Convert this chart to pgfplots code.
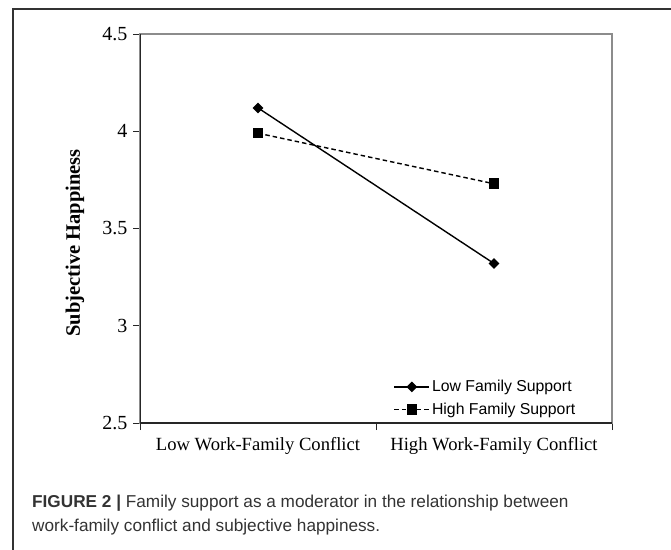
\documentclass[border=0pt]{standalone}
\usepackage{fontspec}
\setmainfont{Liberation Serif}
\newfontfamily\capfont{Liberation Sans}
\usepackage{pgfplots}
\pgfplotsset{compat=1.18}
\begin{document}
\begin{tikzpicture}
\path[use as bounding box] (0,0) rectangle (671bp,-550bp);
% figure frame (top and left only)
\draw[line width=1.4bp, black!80] (13bp,-550bp) -- (13bp,-9bp) -- (671bp,-9bp);
\begin{axis}[
    at={(140bp,-423bp)}, anchor=south west,
    scale only axis, width=472bp, height=389bp,
    xmin=0, xmax=2, ymin=2.5, ymax=4.5,
    axis line style={black!45, line width=1.2bp},
    xtick={0,1,2}, xticklabels={},
    extra x ticks={0.5,1.5},
    extra x tick labels={Low Work-Family Conflict, High Work-Family Conflict},
    extra x tick style={major tick length=0pt,
        tick label style={yshift=-11bp}},
    ytick={2.5,3,3.5,4,4.5},
    xtick pos=bottom, ytick pos=left,
    tick align=outside, major tick length=7bp,
    tick style={black!85, line width=1bp},
    tick label style={font=\fontsize{18.6bp}{22bp}\selectfont},
    yticklabel style={font=\fontsize{20bp}{24bp}\selectfont, xshift=-2bp},
    /pgf/number format/assume math mode=true,
    ylabel={\bfseries Subjective Happiness},
    every axis y label/.style={at={(rel axis cs:0,0.463)}, xshift=-65bp,
        rotate=90, anchor=center, font=\fontsize{20.5bp}{24bp}\selectfont},
    legend style={draw=none, fill=none, at={(rel axis cs:0.537,0.115)},
        anchor=north west, inner sep=0pt, row sep=5.5bp,
        font=\capfont\fontsize{15.8bp}{18bp}\selectfont},
    legend cell align=left,
    legend image code/.code={\draw[mark repeat=2,mark phase=2,#1]
        plot coordinates {(0bp,0bp) (17.5bp,0bp) (35bp,0bp)};},
]
\addplot[black, line width=1.4bp, mark=square*, mark size=3.1bp,
    mark options={rotate=45, solid}] coordinates {(0.5,4.12) (1.5,3.32)};
\addlegendentry{Low Family Support}
\addplot[black, line width=1.4bp, dash pattern=on 4.5bp off 3bp, mark=square*,
    mark size=4.6bp, mark options={solid}] coordinates {(0.5,3.99) (1.5,3.73)};
\addlegendentry{High Family Support}
\draw[black!85, line width=1.2bp] (rel axis cs:0,1) -- (rel axis cs:0,0) -- (rel axis cs:1,0);
\end{axis}
\node[anchor=base west, inner sep=0pt, text=black!80,
    font=\capfont\fontsize{17.2bp}{21bp}\selectfont] at (32bp,-507bp)
    {\textbf{FIGURE 2 |} Family support as a moderator in the relationship between};
\node[anchor=base west, inner sep=0pt, text=black!80,
    font=\capfont\fontsize{17.2bp}{21bp}\selectfont] at (32bp,-531bp)
    {work-family conflict and subjective happiness.};
\end{tikzpicture}
\end{document}
